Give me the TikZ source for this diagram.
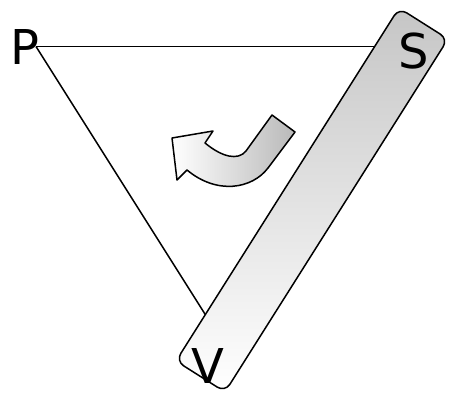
\documentclass[tikz,border=0pt]{standalone}
\usepackage{fontspec}
\setmainfont{DejaVu Sans}
\begin{document}
\begin{tikzpicture}[x=1pt,y=-1pt, line width=1.5pt, line join=round,
  lbl/.style={font=\fontsize{48}{48}\selectfont, inner sep=0pt},
  barstyle/.style={draw, rounded corners=9pt, top color=gray!45, bottom color=white},
  arrowstyle/.style={draw, left color=white, right color=gray!55}]
\useasboundingbox (0,0) rectangle (452,404);
\coordinate (Pc) at (36,46.5);
\coordinate (sE) at (385,46.5);
\coordinate (vE) at (210,322);
\draw (Pc) -- (sE);
\draw (Pc) -- (vE);
\path[barstyle] (399,8) -- (448,39) -- (225,392) -- (176,361) -- cycle;
\path[arrowstyle] (272,115) -- (295,132) -- (268,168)
  .. controls (252,189) and (217,195) .. (187,170) -- (177,180) -- (172,138)
  -- (213,131) -- (205,143) .. controls (222,157) and (238,161) .. (246,151) -- cycle;
\node[lbl] (P) at (25,47) {P};
\node[lbl] (S) at (414,51) {S};
\node[lbl] (V) at (208,366) {V};
\end{tikzpicture}
\end{document}
